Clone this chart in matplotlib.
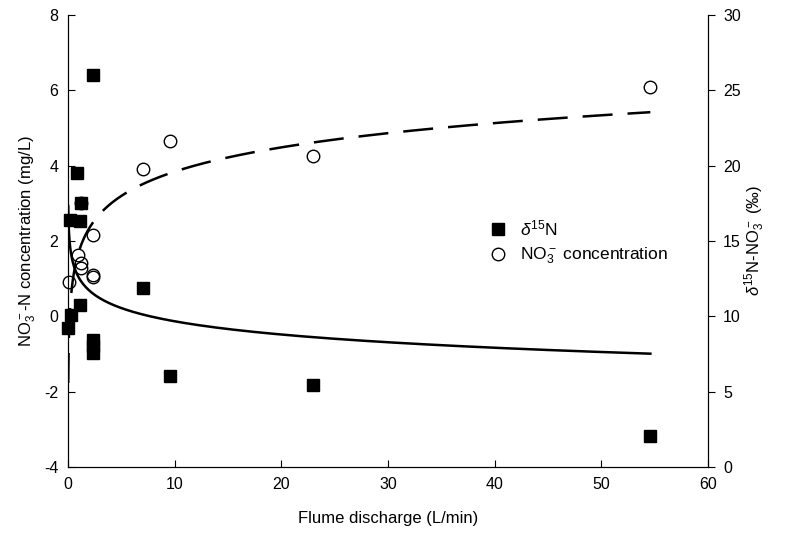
import numpy as np
import matplotlib
matplotlib.use('Agg')
import matplotlib.pyplot as plt
from matplotlib.lines import Line2D

plt.rcParams['font.family'] = ['Liberation Sans', 'DejaVu Sans']
plt.rcParams['mathtext.fontset'] = 'custom'
plt.rcParams['mathtext.rm'] = 'Liberation Sans'
plt.rcParams['mathtext.it'] = 'Liberation Sans:italic'
plt.rcParams['mathtext.bf'] = 'Liberation Sans:bold'
plt.rcParams['axes.unicode_minus'] = False

# delta 15N of nitrate (right axis, permil)
q_d15n = [0.87, 1.19, 0.19, 1.12, 1.12, 0.25, 0.025, 2.37, 2.37, 2.37, 2.3, 7.0, 9.6, 23.0, 54.6]
d15n = [19.5, 17.5, 16.4, 16.35, 10.75, 10.1, 9.2, 8.43, 8.03, 7.58, 26.0, 11.9, 6.05, 5.45, 2.05]

# NO3-N concentration (left axis, mg/L)
q_no3 = [54.6, 23.0, 9.6, 7.0, 1.19, 2.37, 0.97, 1.19, 1.19, 2.37, 2.37, 0.12]
no3 = [6.1, 4.25, 4.66, 3.9, 3.02, 2.16, 1.63, 1.41, 1.28, 1.10, 1.05, 0.92]

# logarithmic fits y = a + b ln(x), as drawn on the figure
fit_no3 = (1.70, 0.93)
fit_d15n = (12.59, -1.267)
fit_range = (0.024, 54.6)

xq = np.exp(np.linspace(np.log(fit_range[0]), np.log(fit_range[1]), 400))

fig = plt.figure(figsize=(7.95, 5.36), dpi=100)
ax = fig.add_axes([0.0855, 0.1287, 0.805, 0.8433])
ax2 = ax.twinx()

ax.plot(xq, fit_no3[0] + fit_no3[1] * np.log(xq), color='black', lw=1.8,
        dashes=(12, 6))
ax2.plot(xq, fit_d15n[0] + fit_d15n[1] * np.log(xq), color='black', lw=1.8)
ax2.plot(q_d15n, d15n, 's', ms=8, color='black', clip_on=False)
# circles on top of squares, in left-axis units
ax2.plot(q_no3, [(v + 4) * 2.5 for v in no3], 'o', ms=9, mfc='none',
         mec='black', mew=1.0, clip_on=False)

ax.set_xlim(0, 60)
ax.set_ylim(-4, 8)
ax2.set_ylim(0, 30)
ax.set_xticks(range(0, 61, 10))
ax.set_yticks(range(-4, 9, 2))
ax2.set_yticks(range(0, 31, 5))

for a in (ax, ax2):
    a.spines['top'].set_visible(False)
ax.tick_params(axis='both', direction='in', length=5, labelsize=11.5, pad=7)
ax2.tick_params(axis='y', direction='out', length=5, labelsize=11.5, pad=6)

ax.set_xlabel('Flume discharge (L/min)', fontsize=12, labelpad=14)
ax.set_ylabel(r'NO$_3^-$-N concentration (mg/L)', fontsize=12, labelpad=4)
ax2.set_ylabel(r'$\delta^{15}$N-NO$_3^-$ ' + r'$\mathregular{(‰)}$', fontsize=12,
               labelpad=1)

handles = [
    Line2D([], [], ls='none', marker='s', ms=8, color='black'),
    Line2D([], [], ls='none', marker='o', ms=9, mfc='none', mec='black'),
]
ax.legend(handles, [r'$\delta^{15}$N', r'NO$_3^-$ concentration'],
          loc='upper left', bbox_to_anchor=(0.62, 0.585), frameon=False,
          fontsize=12.5, handletextpad=0.3, labelspacing=0.45)

fig.savefig('out.png', dpi=100)
